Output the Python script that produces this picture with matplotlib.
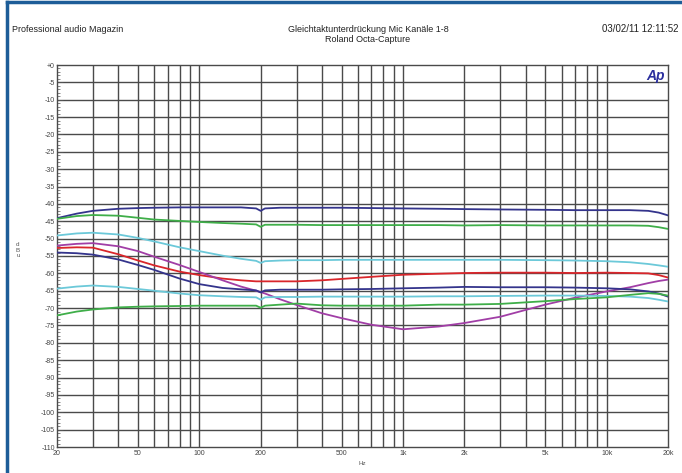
#!/usr/bin/env python3
"""Gleichtaktunterdrückung Mic Kanäle 1-8 (Roland Octa-Capture) - AP-style plot"""

import matplotlib
matplotlib.use("Agg")
import matplotlib.pyplot as plt
from matplotlib.lines import Line2D
from matplotlib.ticker import FixedLocator, NullFormatter, MultipleLocator

plt.rcParams['font.family'] = ['Liberation Sans', 'DejaVu Sans']

# Messpunkte (Hz)
freq = [20, 25, 30, 40, 50, 60, 80, 100, 130, 160, 190, 200, 210, 250, 300,
        400, 500, 700, 1000, 1500, 2000, 3000, 5000, 7000, 10000, 13000,
        16000, 18000, 20000]

# Kanäle (dBu)
navy_top = [-44.1, -42.8, -42.0, -41.4, -41.2, -41.1, -41.0, -41.0, -41.0, -41.0,
            -41.3, -42.0, -41.3, -41.1, -41.1, -41.1, -41.1, -41.2, -41.3, -41.4,
            -41.5, -41.6, -41.7, -41.8, -41.8, -41.8, -42.0, -42.5, -43.3]
green_top = [-44.3, -43.5, -43.2, -43.4, -44.0, -44.5, -44.9, -45.2, -45.5, -45.7,
             -45.9, -46.6, -46.0, -46.0, -46.0, -46.1, -46.1, -46.1, -46.1, -46.1,
             -46.2, -46.1, -46.2, -46.2, -46.2, -46.2, -46.3, -46.7, -47.2]
cyan_top = [-49.1, -48.5, -48.3, -48.8, -49.8, -50.8, -52.5, -53.6, -54.9, -55.8,
            -56.4, -57.0, -56.5, -56.3, -56.2, -56.2, -56.1, -56.1, -56.1, -56.1,
            -56.1, -56.1, -56.2, -56.3, -56.5, -56.8, -57.3, -57.7, -58.1]
magenta = [-52.0, -51.5, -51.3, -52.2, -53.6, -55.2, -57.6, -59.6, -62.0, -63.8,
           -65.0, -65.4, -65.8, -67.5, -69.1, -71.5, -72.9, -74.8, -76.1, -75.3,
           -74.3, -72.5, -69.0, -67.0, -65.2, -64.0, -62.8, -62.2, -61.8]
red = [-52.7, -52.5, -52.6, -54.5, -56.3, -57.7, -59.5, -60.5, -61.5, -62.0,
       -62.3, -62.3, -62.3, -62.3, -62.3, -62.0, -61.6, -61.0, -60.4, -60.1,
       -59.9, -59.8, -59.8, -59.9, -59.8, -59.9, -60.0, -60.5, -61.2]
navy_low = [-54.0, -54.2, -54.6, -56.0, -57.6, -59.0, -61.5, -63.1, -64.2, -64.6,
            -64.9, -65.5, -64.9, -64.7, -64.7, -64.7, -64.6, -64.5, -64.3, -64.1,
            -63.9, -64.0, -64.0, -64.1, -64.3, -64.6, -65.2, -65.8, -66.7]
cyan_low = [-64.4, -63.8, -63.5, -63.9, -64.5, -65.0, -65.8, -66.3, -66.6, -66.8,
            -66.9, -67.6, -66.9, -66.8, -66.8, -66.7, -66.7, -66.7, -66.7, -66.6,
            -66.6, -66.5, -66.4, -66.4, -66.5, -66.7, -67.1, -67.6, -68.1]
green_low = [-72.1, -71.0, -70.4, -69.8, -69.6, -69.5, -69.4, -69.3, -69.3, -69.3,
             -69.3, -69.9, -69.3, -69.0, -68.7, -69.2, -69.3, -69.3, -69.3, -69.0,
             -69.0, -68.8, -68.0, -67.4, -66.9, -66.2, -65.7, -65.9, -66.4]

x_ticks = [20, 50, 100, 200, 500, 1000, 2000, 5000, 10000, 20000]
x_labels = ['20', '50', '100', '200', '500', '1k', '2k', '5k', '10k', '20k']
x_grid = [30, 40, 50, 60, 70, 80, 90, 100, 200, 300, 400, 500, 600, 700, 800, 900,
          1000, 2000, 3000, 4000, 5000, 6000, 7000, 8000, 9000, 10000]
y_ticks = list(range(0, -115, -5))
y_labels = ['+0'] + [str(v) for v in y_ticks[1:]]

COLORS = {
    'navy': '#34348c',
    'green': '#3fae49',
    'cyan': '#6cc9d9',
    'red': '#d9262b',
    'magenta': '#a13ea6',
}

fig = plt.figure(figsize=(6.82, 4.73), dpi=100)
ax = fig.add_axes([57 / 682, 1 - 447 / 473, (668 - 57) / 682, (447 - 65) / 473])

ax.set_xscale('log')
ax.set_xlim(20, 20000)
ax.set_ylim(-110, 0)

# Gitter
for f in x_grid:
    ax.axvline(f, color='#4a4a4a', lw=1.0, zorder=1)
for v in y_ticks[1:-1]:
    ax.axhline(v, color='#4a4a4a', lw=1.0, zorder=1)

# Kurven
series = [
    (navy_top, COLORS['navy']),
    (green_top, COLORS['green']),
    (cyan_top, COLORS['cyan']),
    (red, COLORS['red']),
    (magenta, COLORS['magenta']),
    (navy_low, COLORS['navy']),
    (cyan_low, COLORS['cyan']),
    (green_low, COLORS['green']),
]
for vals, col in series:
    ax.plot(freq, vals, color=col, lw=1.3, zorder=3)

# Achsen
ax.xaxis.set_major_locator(FixedLocator(x_ticks))
ax.set_xticklabels(x_labels)
ax.xaxis.set_minor_formatter(NullFormatter())
ax.xaxis.set_minor_locator(FixedLocator([]))
ax.set_yticks(y_ticks)
ax.set_yticklabels(y_labels)
ax.yaxis.set_minor_locator(MultipleLocator(1))
ax.tick_params(axis='x', length=0, pad=2, labelsize=5, labelcolor='#444444')
ax.tick_params(axis='y', which='major', direction='in', length=4, width=0.6,
               pad=1.5, labelsize=5, labelcolor='#444444', color='#555555')
ax.tick_params(axis='y', which='minor', direction='in', length=2.5, width=0.5,
               color='#555555')
for sp in ax.spines.values():
    sp.set_color('#4a4a4a')
    sp.set_linewidth(1.0)

ax.set_xlabel('Hz', fontsize=4.5, color='#555555', labelpad=3)
fig.text(18 / 682, 1 - 250 / 473, 'd\nB\nu', fontsize=4.5, color='#555555',
         ha='center', va='center', linespacing=1.2)

# Kopfzeile
fig.text(12 / 682, 1 - 29 / 473, 'Professional audio Magazin', fontsize=6.5,
         ha='left', va='center', color='#222222')
fig.text(368 / 682, 1 - 29 / 473, 'Gleichtaktunterdrückung Mic Kanäle 1-8',
         fontsize=6.5, ha='center', va='center', color='#222222')
fig.text(368 / 682, 1 - 40 / 473, 'Roland Octa-Capture', fontsize=6.5,
         ha='center', va='center', color='#222222')
fig.text(678 / 682, 1 - 29 / 473, '03/02/11 12:11:52', fontsize=7,
         ha='right', va='center', color='#222222')
ax.text(0.995, 0.99, 'Ap', transform=ax.transAxes, fontsize=10,
        fontweight='bold', style='italic', color='#2b2f9e',
        ha='right', va='top', zorder=5)

# Rahmen
fig.add_artist(Line2D([6.5 / 682, 6.5 / 682], [0, 1 - 2 / 473],
                      transform=fig.transFigure, color='#1d5d98', lw=2.5))
fig.add_artist(Line2D([6.5 / 682, 1], [1 - 2 / 473, 1 - 2 / 473],
                      transform=fig.transFigure, color='#1d5d98', lw=2.5))

fig.savefig('out.png', dpi=100)
